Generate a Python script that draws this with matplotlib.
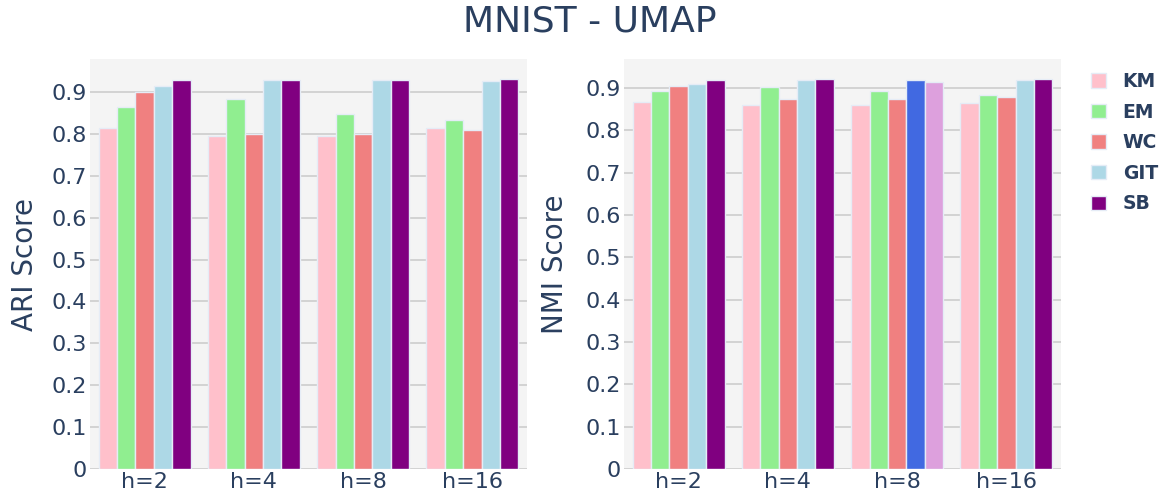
import matplotlib.pyplot as plt
import numpy as np

plt.rcParams['font.family'] = ['DejaVu Sans']

categories = ['h=2', 'h=4', 'h=8', 'h=16']
methods = ['KM', 'EM', 'WC', 'GIT', 'SB']
colors = ['#FFC0CB', '#90EE90', '#F08080', '#ADD8E6', '#800080']

ari = {
    'KM':  [0.814, 0.795, 0.796, 0.814],
    'EM':  [0.865, 0.882, 0.848, 0.834],
    'WC':  [0.899, 0.800, 0.799, 0.809],
    'GIT': [0.913, 0.928, 0.928, 0.927],
    'SB':  [0.928, 0.929, 0.929, 0.932],
}
nmi = {
    'KM':  [0.867, 0.859, 0.859, 0.865],
    'EM':  [0.892, 0.903, 0.893, 0.883],
    'WC':  [0.905, 0.874, 0.873, 0.879],
    'GIT': [0.909, 0.919, 0.919, 0.919],
    'SB':  [0.919, 0.920, 0.913, 0.922],
}
# in the NMI panel the h=8 bars of GIT and SB are drawn in other colours
nmi_overrides = {('GIT', 2): '#4169E1', ('SB', 2): '#DDA0DD'}

text_col = '#2a3f5f'
bg = '#F4F4F4'

fig = plt.figure(figsize=(11.66, 4.98), dpi=100)
W, H = 1166, 498
axes = [
    fig.add_axes([90 / W, 1 - 469 / H, 437 / W, 410 / H]),
    fig.add_axes([624 / W, 1 - 469 / H, 437 / W, 410 / H]),
]

group = 0.84
bw = group / len(methods)
x = np.arange(len(categories))


def draw(ax, data, ylabel, overrides, label_x):
    ax.set_facecolor(bg)
    for i, m in enumerate(methods):
        cols = [overrides.get((m, j), colors[i]) for j in range(len(categories))]
        ax.bar(x - group / 2 + bw * (i + 0.5), data[m], width=bw, color=cols,
               edgecolor='#E5ECF6', linewidth=1.0, zorder=3, label=m)
    top = max(max(v) for v in data.values()) * 1.05
    ax.set_ylim(0, top)
    ax.set_xlim(-0.5, len(categories) - 0.5)
    ticks = np.arange(0, 1.0, 0.1)
    ax.set_yticks(ticks)
    ax.set_yticklabels(['0'] + ['%.1f' % t for t in ticks[1:]])
    ax.set_xticks(x)
    ax.set_xticklabels(categories)
    ax.grid(axis='y', color='#D3D3D3', linewidth=1.4, zorder=0)
    ax.tick_params(length=0, labelsize=16, colors=text_col, pad=2.5)
    for s in ax.spines.values():
        s.set_visible(False)
    ax.set_ylabel(ylabel, fontsize=20, color=text_col)
    ax.yaxis.set_label_coords(label_x, 0.5)


draw(axes[0], ari, 'ARI Score', {}, -0.1156)
draw(axes[1], nmi, 'NMI Score', nmi_overrides, -0.127)

handles = [plt.Rectangle((0, 0), 1, 1, facecolor=c, edgecolor='#E5ECF6', linewidth=1.0)
           for c in colors]
leg = fig.legend(handles, methods, loc='upper left', bbox_to_anchor=(1074 / W, 1 - 55 / H),
                 frameon=False, handlelength=0.8, handleheight=0.8, handletextpad=0.9,
                 labelspacing=0.62, prop={'size': 13.5, 'weight': 'bold'})
for t in leg.get_texts():
    t.set_color(text_col)

fig.text(590 / W, 1 - 22 / H, 'MNIST - UMAP', ha='center', va='center', fontsize=26, color=text_col)

fig.savefig('out.png', dpi=100, facecolor='white')
